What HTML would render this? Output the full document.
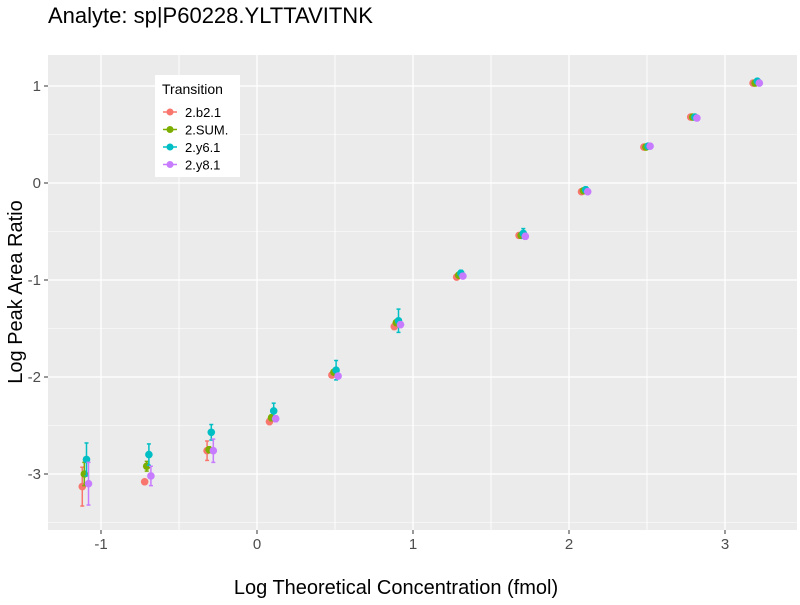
<!DOCTYPE html>
<html><head><meta charset="utf-8"><style>
body{margin:0;background:#fff;font-family:"Liberation Sans",sans-serif}
svg text{font-family:"Liberation Sans",sans-serif}
</style></head><body>
<svg id="chart" width="800" height="600">
<text x="48" y="23" font-size="22" fill="#000">Analyte: sp|P60228.YLTTAVITNK</text>
<rect x="48" y="55" width="749" height="475" fill="#ebebeb"/>
<g id="grid"></g><g id="marks"></g><g id="axes"></g>
<text x="396" y="594" font-size="20" text-anchor="middle" fill="#000">Log Theoretical Concentration (fmol)</text>
<text transform="translate(22,292) rotate(-90)" font-size="20" text-anchor="middle" fill="#000">Log Peak Area Ratio</text>
<g>
<rect x="155" y="75" width="85" height="102" fill="#fff"/>
<text x="162" y="94" font-size="14">Transition</text>
<g id="legend-items"></g>
</g>
</svg>
<script>
const xLevels=[-1.1,-0.7,-0.3,0.1,0.5,0.9,1.3,1.7,2.1,2.5,2.8,3.2];
const seriesNames=["2.b2.1","2.SUM.","2.y6.1","2.y8.1"];
const seriesColors=["#F8766D","#7CAE00","#00BFC4","#C77CFF"];
const valsB2=[-3.13,-3.08,-2.76,-2.46,-1.98,-1.48,-0.97,-0.54,-0.09,0.37,0.68,1.03];
const valsSUM=[-3.0,-2.92,-2.75,-2.42,-1.95,-1.44,-0.95,-0.54,-0.08,0.37,0.68,1.03];
const valsY6=[-2.85,-2.80,-2.57,-2.35,-1.93,-1.42,-0.93,-0.52,-0.07,0.38,0.68,1.05];
const valsY8=[-3.10,-3.02,-2.76,-2.43,-1.99,-1.46,-0.96,-0.55,-0.09,0.38,0.67,1.03];
const sdB2=[0.2,0.0,0.1,0.03,0.02,0.03,0.02,0.02,0.01,0.02,0.01,0.01];
const sdSUM=[0.12,0.05,0.03,0.03,0.02,0.02,0.01,0.01,0.01,0.01,0.01,0.01];
const sdY6=[0.17,0.11,0.08,0.08,0.1,0.12,0.03,0.05,0.03,0.01,0.01,0.02];
const sdY8=[0.22,0.1,0.12,0.03,0.02,0.03,0.02,0.03,0.01,0.01,0.01,0.01];
const xTicks=[-1,0,1,2,3];
const yTicks=[1,0,-1,-2,-3];
const allVals=[valsB2,valsSUM,valsY6,valsY8];
const allSd=[sdB2,sdSUM,sdY6,sdY8];
const NS="http://www.w3.org/2000/svg";
const X=v=>257+(v)*156, Y=v=>183-v*97;
function mk(tag,attrs,parent){const e=document.createElementNS(NS,tag);for(const k in attrs)e.setAttribute(k,attrs[k]);parent.appendChild(e);return e;}
const grid=document.getElementById('grid'),marks=document.getElementById('marks'),axes=document.getElementById('axes');
xTicks.forEach(t=>{
 mk('line',{x1:X(t+0.5),x2:X(t+0.5),y1:55,y2:530,stroke:'#fff','stroke-width':0.6},grid);
 if(X(t-0.5)>48){mk('line',{x1:X(t-0.5),x2:X(t-0.5),y1:55,y2:530,stroke:'#fff','stroke-width':0.6},grid);}
 const g=mk('line',{x1:X(t),x2:X(t),y1:55,y2:530,stroke:'#fff','stroke-width':1.3},grid);
 
 
 mk('line',{x1:X(t),x2:X(t),y1:530,y2:534,stroke:'#333'},axes);
 const tx=mk('text',{x:X(t),y:549,'font-size':15,'text-anchor':'middle',fill:'#4d4d4d'},axes);
 tx.textContent=t;
 
 
});
yTicks.forEach(t=>{
 mk('line',{x1:48,x2:797,y1:Y(t-0.5),y2:Y(t-0.5),stroke:'#fff','stroke-width':0.6},grid);
 const g=mk('line',{x1:48,x2:797,y1:Y(t),y2:Y(t),stroke:'#fff','stroke-width':1.3},grid);
 
 
 mk('line',{x1:44,x2:48,y1:Y(t),y2:Y(t),stroke:'#333'},axes);
 const tx=mk('text',{x:41,y:Y(t)+5,'font-size':15,'text-anchor':'end',fill:'#4d4d4d'},axes);
 tx.textContent=t;
 
 
});
const dodge=[-0.02,-0.007,0.007,0.02];
allVals.forEach((vals,s)=>{
 vals.forEach((v,i)=>{
  const cx=X(xLevels[i]+dodge[s]),sd=allSd[s][i],c=seriesColors[s];
  if(sd>0){
   mk('line',{x1:cx,x2:cx,y1:Y(v+sd),y2:Y(v-sd),stroke:c,'stroke-width':1.5},marks);
   mk('line',{x1:cx-2,x2:cx+2,y1:Y(v+sd),y2:Y(v+sd),stroke:c,'stroke-width':1.5},marks);
   mk('line',{x1:cx-2,x2:cx+2,y1:Y(v-sd),y2:Y(v-sd),stroke:c,'stroke-width':1.5},marks);
  }
  const p=mk('circle',{cx:cx,cy:Y(v),r:3.8,fill:c},marks);
  
  
 });
});
const li=document.getElementById('legend-items');
seriesNames.forEach((n,s)=>{
 const y=112+s*17.5;
 mk('line',{x1:163,x2:177,y1:y,y2:y,stroke:seriesColors[s],'stroke-width':1.5},li);
 mk('circle',{cx:170,cy:y,r:3.5,fill:seriesColors[s]},li);
 const t=mk('text',{x:185,y:y+5,'font-size':13},li);
 t.textContent=n;
 
 
});
</script>
</body></html>
